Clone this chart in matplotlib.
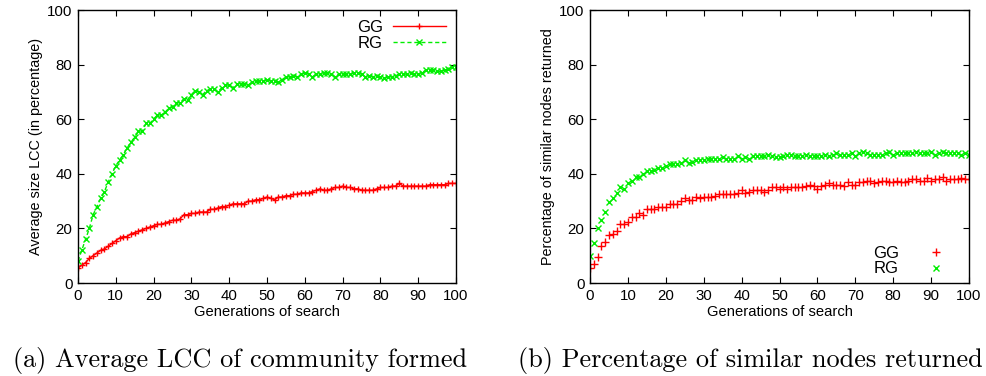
import matplotlib.pyplot as plt
import numpy as np

plt.rcParams['font.family'] = ['Liberation Sans', 'DejaVu Sans']

# generations 0..100
gens = np.arange(0, 101)

# (a) average size of LCC (in percentage)
lcc_gg = [5.5, 6.5, 7.5, 9, 10, 11, 12, 12.5, 13.5, 14.5,
          15.5, 16.5, 17, 17, 18, 18.5, 19, 19.5, 20, 20.5,
          21, 21.5, 21.5, 22, 22.5, 23, 23, 23.5, 25, 25,
          25.5, 25.5, 26, 26, 26, 27, 27, 27.5, 28, 28,
          28.5, 29, 29, 29, 29, 30, 30, 30.5, 30.5, 31,
          31.5, 31, 30.5, 31.5, 31.5, 32, 32, 32.5, 32.5, 33,
          33, 33, 33.5, 34, 34.5, 34, 34, 34.5, 35, 35,
          35.5, 35, 35, 34.5, 34.5, 34, 34, 34, 34, 34.5,
          35, 35, 35, 35.5, 35.5, 36.5, 35.5, 35.5, 35.5, 35.5,
          35.5, 35.5, 35.5, 36, 36, 36, 36, 36, 36.5, 36.5, 36.5]
lcc_rg = [8, 12, 16, 20, 25, 28, 31, 33.5, 37, 40,
          43, 45, 47, 49.5, 51.5, 53.5, 55.5, 55.5, 58.5, 58.5,
          60, 61.5, 61.5, 62.5, 64, 64.5, 66, 66, 67.5, 67,
          69, 70.5, 70, 69, 70.5, 71, 71, 70, 71.5, 72.5,
          72.5, 71.5, 73, 73, 73, 72.5, 73.5, 74, 74, 74,
          74.5, 74, 74, 73.5, 74.5, 75.5, 75.5, 76, 75.5, 76.5,
          77, 76.5, 75.5, 76.5, 76.5, 77, 77, 76.5, 75.5, 76.5,
          76.5, 76.5, 76.5, 77, 77, 76.5, 75.5, 76, 75.5, 76,
          75.5, 75, 75.5, 75.5, 76, 76.5, 76.5, 76.5, 77, 76.5,
          76.5, 77, 78, 78, 78, 77.5, 77.5, 78, 78.5, 79, 79]

# (b) percentage of similar nodes returned
sim_gg = [5.5, 7, 9.5, 13.5, 15, 17.5, 18, 19, 21.5, 21.5,
          22.5, 24, 24, 25.5, 25, 27, 27, 27, 28, 28,
          28, 29, 29, 29, 30, 31, 30.5, 30.5, 31.5, 31,
          31.5, 31.5, 31.5, 32, 32.5, 32.5, 32.5, 32.5, 32.5, 33,
          34, 33, 33.5, 34, 34, 34, 33.5, 34, 35, 35,
          34.5, 35, 34.5, 35, 35, 35, 35, 35.5, 36, 35.5,
          34.5, 35.5, 36, 36.5, 36, 36, 36, 35.5, 37, 36,
          36, 37, 37, 37.5, 37.5, 36.5, 37, 37.5, 37.5, 37,
          37, 37.5, 37, 37, 37.5, 38, 38, 37.5, 37.5, 38.5,
          37.5, 38, 38, 39, 37.5, 38, 38, 38, 38.5, 38, 38]
sim_rg = [10, 14.5, 20, 23, 26, 29.5, 31, 33, 35, 34.5,
          36.5, 37.5, 39, 39, 40, 41, 41, 41.5, 42, 42,
          43, 43.5, 43.5, 43.5, 44, 45, 44, 44.5, 45, 45,
          45, 45.5, 45.5, 45.5, 45.5, 46, 45.5, 45.5, 45.5, 46.5,
          45.5, 46, 45.5, 46.5, 46.5, 46.5, 46.5, 47, 46.5, 46,
          46, 46.5, 47, 47, 46.5, 46.5, 46.5, 47, 46.5, 46.5,
          46.5, 46.5, 47, 46.5, 47, 47.5, 47, 47, 47, 47.5,
          46.5, 47.5, 48, 47.5, 47, 47, 47, 47, 47.5, 48,
          47, 47.5, 47.5, 47.5, 47.5, 47.5, 48, 47.5, 47.5, 47.5,
          48, 47, 47.5, 48, 47.5, 47.5, 47.5, 47.5, 47, 47.5, 47]

red = '#ff0000'
green = '#00ee00'

fig = plt.figure(figsize=(9.86, 3.76), dpi=100)
ax1 = fig.add_axes([0.0791, 0.2473, 0.3834, 0.7261])
ax2 = fig.add_axes([0.5984, 0.2473, 0.3844, 0.7261])

# left panel: lines with markers
ax1.plot(gens, lcc_gg, color=red, lw=1, marker='+', ms=5, mew=1, label='GG')
ax1.plot(gens, lcc_rg, color=green, lw=1, ls=(0, (3, 2)), marker='x', ms=4,
         mew=1, label='RG')
ax1.set_ylabel('Average size LCC (in percentage)', fontsize=10.4, labelpad=3)
ax1.legend(loc='upper right', frameon=False, markerfirst=False, fontsize=12,
           handlelength=3.2, borderaxespad=0.2, labelspacing=0.05,
           handletextpad=0.6)

# right panel: markers only
ax2.plot(gens, sim_gg, ls='none', color=red, marker='+', ms=5.5, mew=1, label='GG')
ax2.plot(gens, sim_rg, ls='none', color=green, marker='x', ms=4.5, mew=1, label='RG')
ax2.set_ylabel('Percentage of similar nodes returned', fontsize=10.4, labelpad=3)
ax2.legend(loc='lower right', frameon=False, markerfirst=False, fontsize=12,
           handlelength=3.2, borderaxespad=0.0, labelspacing=0.05,
           handletextpad=0.6)

for ax in (ax1, ax2):
    ax.set_xlim(0, 100)
    ax.set_ylim(0, 100)
    ax.set_xticks(np.arange(0, 101, 10))
    ax.set_yticks(np.arange(0, 101, 20))
    ax.tick_params(direction='in', top=True, right=True, labelsize=10.8,
                   length=4, pad=4)
    ax.set_xlabel('Generations of search', fontsize=10.6, labelpad=2)
    for s in ax.spines.values():
        s.set_linewidth(1)

# subfigure captions
fig.text(0.0132, 0.024, '(a) Average LCC of community formed', family='cmr10',
         fontsize=18.9, ha='left', va='baseline')
fig.text(0.5254, 0.024, '(b) Percentage of similar nodes returned', family='cmr10',
         fontsize=18.9, ha='left', va='baseline')

fig.savefig('out.png', dpi=100)
